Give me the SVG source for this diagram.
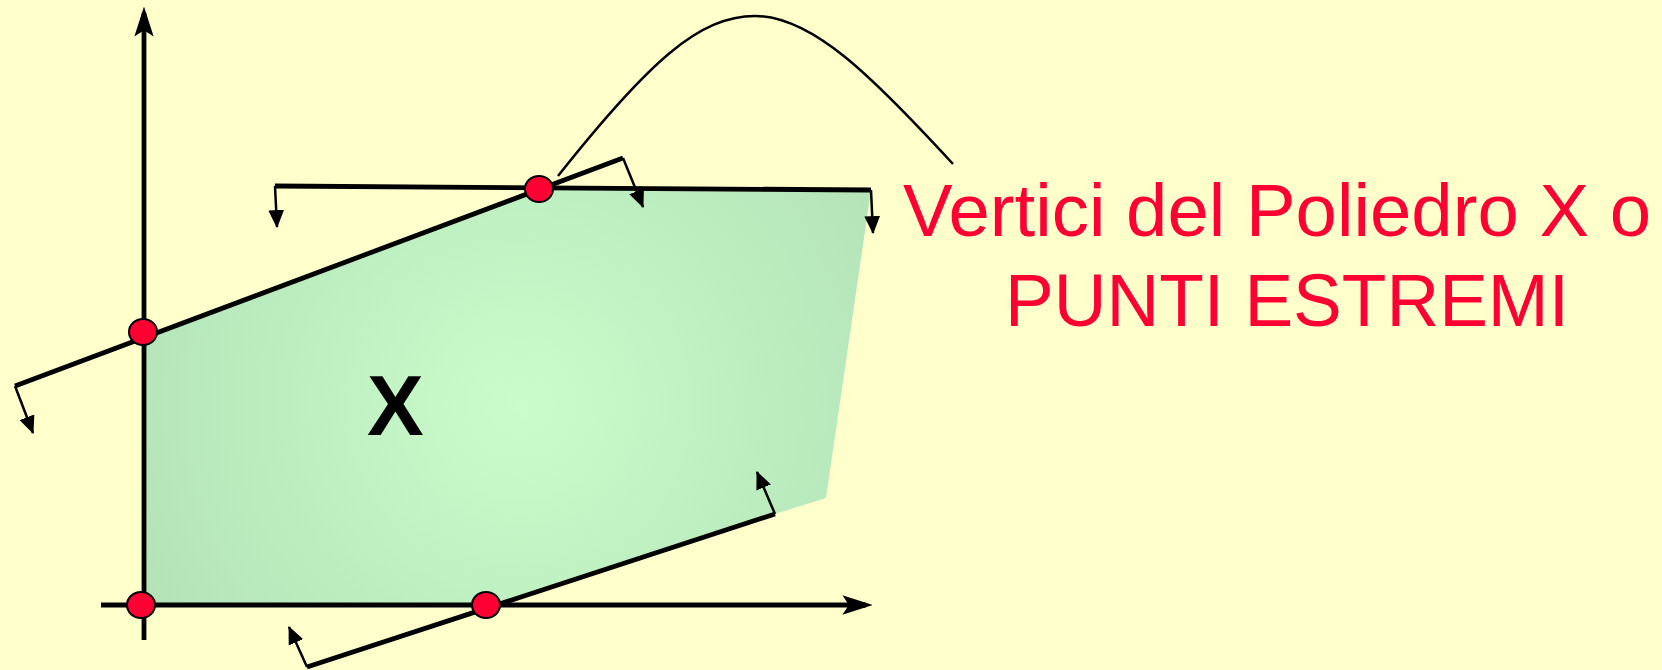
<svg xmlns="http://www.w3.org/2000/svg" width="1662" height="670" viewBox="0 0 1662 670">
<defs>
<style>
.thick{stroke:#000;stroke-width:4.8;fill:none;stroke-linecap:butt}
.thin{stroke:#000;stroke-width:2.5;fill:none}
.vertex{fill:#ff0033;stroke:#000;stroke-width:2}
.label{font-family:"Liberation Sans",Arial,sans-serif;fill:#ff0033;font-size:75px}
</style>
<radialGradient id="g" gradientUnits="userSpaceOnUse" cx="520" cy="405" r="420">
<stop offset="0" stop-color="#cafccb"/>
<stop offset="1" stop-color="#b3e3b7"/>
</radialGradient>
<marker id="axisHead" markerUnits="userSpaceOnUse" markerWidth="30" markerHeight="20" viewBox="0 0 28 18" refX="22" refY="9" orient="auto">
<path d="M0,0 L28,9 L0,18 L6,9 Z" fill="#000"/>
</marker>
<marker id="smallHead" markerUnits="userSpaceOnUse" markerWidth="18" markerHeight="16" viewBox="0 0 16 14" refX="15" refY="7" orient="auto">
<path d="M0,0 L16,7 L0,14 Z" fill="#000"/>
</marker>
</defs>
<rect x="0" y="0" width="1662" height="670" fill="#ffffcc"/>
<g id="region">
<path d="M144,605 L144,337 L539,189 L871,190 L826,498 L775,514 L497,605 Z" fill="url(#g)"/>
</g>
<g id="axes">
<line class="thick" x1="144" y1="640" x2="144" y2="13" marker-end="url(#axisHead)"/>
<line class="thick" x1="101" y1="605" x2="866" y2="605" marker-end="url(#axisHead)"/>
</g>
<g id="connectors">
<line class="thick" x1="15" y1="386" x2="623" y2="158"/>
<line class="thick" x1="275" y1="186" x2="871" y2="190"/>
<line class="thick" x1="307" y1="667" x2="775" y2="514"/>
<polyline class="thin" points="15,386 33,433" marker-end="url(#smallHead)"/>
<polyline class="thin" points="623,158 643,207" marker-end="url(#smallHead)"/>
<polyline class="thin" points="275,186 277,227" marker-end="url(#smallHead)"/>
<polyline class="thin" points="871,190 873,233" marker-end="url(#smallHead)"/>
<polyline class="thin" points="307,667 289,627" marker-end="url(#smallHead)"/>
<polyline class="thin" points="775,514 757,472" marker-end="url(#smallHead)"/>
<path class="thin" d="M558,176 C650,60 700,16 755,16 C812,16 872,76 953,164"/>
</g>
<g id="vertices">
<ellipse class="vertex" cx="141" cy="605" rx="14" ry="13"/>
<ellipse class="vertex" cx="486" cy="605" rx="14" ry="13"/>
<ellipse class="vertex" cx="143" cy="332" rx="14" ry="13"/>
<ellipse class="vertex" cx="539" cy="189" rx="14" ry="13"/>
</g>
<g id="labelX">
<text x="367" y="435" font-family="Liberation Sans, Arial, sans-serif" font-weight="bold" font-size="85" fill="#000">X</text>
</g>
<g id="caption">
<text class="label" x="903" y="236" textLength="748" lengthAdjust="spacingAndGlyphs">Vertici del Poliedro X o</text>
<text class="label" x="1005" y="326" textLength="564" lengthAdjust="spacingAndGlyphs">PUNTI ESTREMI</text>
</g>
</svg>
